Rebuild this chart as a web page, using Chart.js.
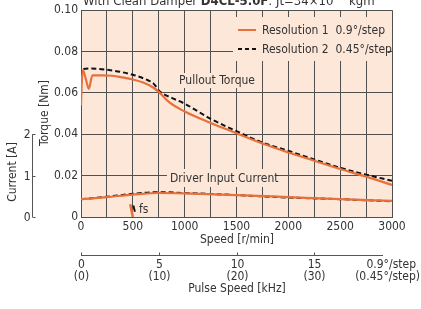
<!DOCTYPE html>
<html>
<head>
<meta charset="utf-8">
<script src="https://cdn.jsdelivr.net/npm/chart.js@4/dist/chart.umd.min.js"></script>
<style>
  html, body { margin: 0; padding: 0; background: #fff; }
  #wrap { width: 421px; height: 309px; }
</style>
</head>
<body>
<div id="wrap"><canvas id="grafico" width="421" height="309"></canvas></div>
<script>
// Datos
const res1Speed  = [0, 8, 18, 45, 75, 110, 200, 300, 400, 500, 600, 700, 760, 850, 1000, 1250, 1500, 1750, 2000, 2250, 2500, 2750, 3000];
const res1Torque = [0.054, 0.066, 0.071, 0.067, 0.062, 0.0685, 0.0685, 0.0683, 0.0675, 0.0665, 0.065, 0.0625, 0.060, 0.0555, 0.051, 0.0455, 0.0405, 0.0355, 0.0312, 0.0272, 0.0232, 0.0195, 0.0155];

const res2Speed  = [0, 8, 20, 100, 250, 500, 650, 700, 760, 880, 1000, 1250, 1500, 1750, 2000, 2250, 2500, 2750, 3000];
const res2Torque = [0.064, 0.069, 0.0715, 0.0718, 0.0712, 0.0688, 0.066, 0.0645, 0.0607, 0.0575, 0.0548, 0.0475, 0.0415, 0.036, 0.032, 0.0278, 0.0238, 0.0205, 0.0175];

const curSpeed   = [0, 250, 500, 750, 1000, 1500, 2000, 2500, 3000];
const cur1Amp    = [0.43, 0.48, 0.54, 0.58, 0.57, 0.53, 0.48, 0.43, 0.39];
const cur2Amp    = [0.43, 0.49, 0.56, 0.60, 0.58, 0.53, 0.47, 0.43, 0.38];

const fs1Speed = [475, 500];
const fs1Torque = [0.0062, 0];
const fs2Speed = [505, 520];
const fs2Torque = [0.0056, 0.0025];

const torqueTicks = [0, 0.02, 0.04, 0.06, 0.08, 0.10];
const speedLabels = [0, 500, 1000, 1500, 2000, 2500, 3000];
const currentTicks = [0, 1, 2];
const pulseTicks = [0, 5, 10, 15, 20];
const pulseLabels = ['0', '5', '10', '15', '0.9°/step'];
const pulseLabelsHalf = ['(0)', '(10)', '(20)', '(30)', '(0.45°/step)'];
const rpmPerKHz = 150; // 0.9°/step: 20 kHz = 3000 r/min

const FONT = "'DejaVu Sans Condensed', 'Liberation Sans Narrow', sans-serif";
const FS = 12;
const TEXT = '#333';
const FONDO = '#fde7d9';
const GRID = '#505050';
const NARANJA = '#e8703a';

const pares = (xs, ys) => xs.map((x, i) => ({ x: x, y: ys[i] }));

const decoracion = {
  id: 'decoracion',
  beforeDraw(chart) {
    const { ctx, chartArea: a } = chart;
    ctx.save();
    ctx.fillStyle = FONDO;
    ctx.fillRect(a.left, a.top, a.right - a.left, a.bottom - a.top);
    ctx.restore();
  },
  beforeDatasetsDraw(chart) {
    const { ctx } = chart;
    const x = chart.scales.x, yc = chart.scales.yCur;
    ctx.save();
    // cajas de etiquetas que tapan la rejilla
    ctx.fillStyle = FONDO;
    ctx.fillRect(233, 17, 155, 44);
    ctx.fillRect(176, 73, 80, 15);
    ctx.fillRect(167, 169, 108, 18);

    ctx.fillStyle = TEXT;
    ctx.font = FS + 'px ' + FONT;
    ctx.textBaseline = 'middle';
    ctx.textAlign = 'left';
    ctx.fillText('Pullout Torque', 179, 80.5);
    ctx.fillText('Driver Input Current', 170, 178.5);
    ctx.fillText('fs', 139, 210);

    // leyenda
    ctx.strokeStyle = NARANJA;
    ctx.lineWidth = 2;
    ctx.beginPath(); ctx.moveTo(238, 30); ctx.lineTo(256, 30); ctx.stroke();
    ctx.strokeStyle = '#111';
    ctx.setLineDash([4, 3]);
    ctx.beginPath(); ctx.moveTo(238, 49); ctx.lineTo(256, 49); ctx.stroke();
    ctx.setLineDash([]);
    ctx.fillText('Resolution 1  0.9°/step', 262, 30.5);
    ctx.fillText('Resolution 2  0.45°/step', 262, 49.5);

    // titulo (cortado arriba)
    ctx.textBaseline = 'alphabetic';
    let tx = 83;
    const partes = [
      ['With Clean Damper ', 'normal', 13, 5],
      ['D4CL-5.0F', 'bold', 13, 5],
      [': Jt=34×10', 'normal', 13, 5],
      ['−7', 'normal', 9, 0],
      [' kgm', 'normal', 13, 5],
      ['2', 'normal', 9, 0]
    ];
    partes.forEach(([t, w, s, b]) => {
      ctx.font = w + ' ' + s + 'px ' + FONT;
      ctx.fillText(t, tx, b);
      tx += ctx.measureText(t).width;
    });

    // titulos de ejes
    ctx.font = FS + 'px ' + FONT;
    ctx.textAlign = 'center';
    ctx.textBaseline = 'middle';
    ctx.fillText('Speed [r/min]', 237, 240);
    ctx.save();
    ctx.translate(45, 113);
    ctx.rotate(-Math.PI / 2);
    ctx.fillText('Torque [Nm]', 0, 0);
    ctx.restore();

    // eje de corriente
    ctx.strokeStyle = '#555';
    ctx.lineWidth = 1;
    const cx = 32.5;
    ctx.beginPath();
    ctx.moveTo(cx, yc.getPixelForValue(0));
    ctx.lineTo(cx, yc.getPixelForValue(2));
    ctx.stroke();
    ctx.textAlign = 'right';
    currentTicks.forEach(v => {
      const py = Math.round(yc.getPixelForValue(v)) + 0.5;
      ctx.beginPath(); ctx.moveTo(cx, py); ctx.lineTo(cx + 3, py); ctx.stroke();
      ctx.fillText(String(v), cx - 2, py);
    });
    ctx.save();
    ctx.translate(13, 172);
    ctx.rotate(-Math.PI / 2);
    ctx.textAlign = 'center';
    ctx.fillText('Current [A]', 0, 0);
    ctx.restore();

    // eje de velocidad de pulsos
    const py = 255.5;
    ctx.beginPath();
    ctx.moveTo(x.getPixelForValue(0), py);
    ctx.lineTo(383, py);
    ctx.stroke();
    pulseTicks.forEach((k, i) => {
      const px = Math.round(x.getPixelForValue(k * rpmPerKHz)) + 0.5;
      const ultimo = i === pulseTicks.length - 1;
      if (!ultimo) {
        ctx.beginPath(); ctx.moveTo(px, py); ctx.lineTo(px, py - 3); ctx.stroke();
      }
      ctx.textAlign = ultimo ? 'right' : 'center';
      ctx.fillText(pulseLabels[i], ultimo ? 416 : px, 265);
      ctx.fillText(pulseLabelsHalf[i], ultimo ? 420 : px, 277);
    });
    ctx.textAlign = 'center';
    ctx.fillText('Pulse Speed [kHz]', 237, 289);
    ctx.restore();
  }
};

new Chart(document.getElementById('grafico').getContext('2d'), {
  type: 'line',
  data: {
    datasets: [
      { data: pares(res1Speed, res1Torque), borderColor: NARANJA, borderWidth: 2.2, yAxisID: 'y' },
      { data: pares(res2Speed, res2Torque), borderColor: '#111', borderWidth: 2, borderDash: [5, 3], yAxisID: 'y' },
      { data: pares(curSpeed, cur1Amp), borderColor: NARANJA, borderWidth: 2.2, yAxisID: 'yCur' },
      { data: pares(curSpeed, cur2Amp), borderColor: '#111', borderWidth: 2, borderDash: [5, 3], yAxisID: 'yCur' },
      { data: pares(fs1Speed, fs1Torque), borderColor: NARANJA, borderWidth: 2.5, yAxisID: 'y' },
      { data: pares(fs2Speed, fs2Torque), borderColor: '#111', borderWidth: 2, yAxisID: 'y' }
    ]
  },
  options: {
    responsive: false,
    animation: false,
    devicePixelRatio: 1,
    layout: { padding: { left: 0, top: 8, right: 29, bottom: 0 } },
    elements: { point: { radius: 0 }, line: { cubicInterpolationMode: 'monotone', fill: false } },
    plugins: { legend: { display: false }, tooltip: { enabled: false } },
    scales: {
      x: {
        type: 'linear',
        min: 0, max: 3000,
        afterFit: s => { s.height = 92; },
        afterBuildTicks: s => { s.ticks = []; for (let v = 0; v <= 3000; v += 250) s.ticks.push({ value: v }); },
        grid: { color: GRID, lineWidth: 1, drawTicks: false },
        border: { display: true, color: GRID },
        ticks: {
          autoSkip: false, maxRotation: 0, padding: 3, color: TEXT,
          font: { family: FONT, size: FS },
          callback: v => speedLabels.includes(v) ? String(v) : ''
        }
      },
      y: {
        position: 'left',
        min: 0, max: 0.1,
        afterFit: s => { s.width = 81; },
        afterBuildTicks: s => { s.ticks = torqueTicks.map(v => ({ value: v })); },
        grid: { color: GRID, lineWidth: 1, drawTicks: false },
        border: { display: true, color: GRID },
        ticks: {
          padding: 3, color: TEXT, font: { family: FONT, size: FS },
          callback: v => v === 0 ? '0' : v.toFixed(2)
        }
      },
      yCur: {
        display: false,
        min: 0, max: 5
      }
    }
  },
  plugins: [decoracion]
});
</script>
</body>
</html>
